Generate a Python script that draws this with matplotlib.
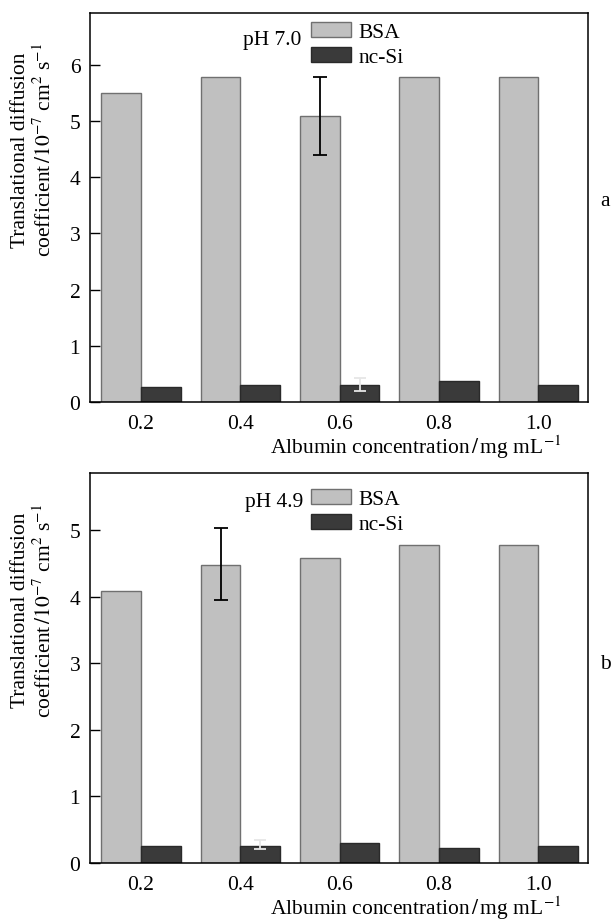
import matplotlib
matplotlib.use("Agg")
import matplotlib.pyplot as plt
import numpy as np
from matplotlib.patches import Patch

plt.rcParams['font.family'] = ['Liberation Serif', 'DejaVu Serif']
plt.rcParams['mathtext.fontset'] = 'stix'

categories = ["0.2", "0.4", "0.6", "0.8", "1.0"]

# Panel a (pH 7.0)
bsa_a = [5.49, 5.78, 5.09, 5.78, 5.78]
ncsi_a = [0.27, 0.31, 0.31, 0.37, 0.31]
bsa_a_err_low = [0, 0, 0.69, 0, 0]
bsa_a_err_high = [0, 0, 0.69, 0, 0]
ncsi_a_err_low = [0, 0, 0.12, 0, 0]
ncsi_a_err_high = [0, 0, 0.12, 0, 0]

# Panel b (pH 4.9)
bsa_b = [4.08, 4.48, 4.58, 4.78, 4.78]
ncsi_b = [0.26, 0.26, 0.30, 0.22, 0.26]
bsa_b_err_low = [0, 0.53, 0, 0, 0]
bsa_b_err_high = [0, 0.56, 0, 0, 0]
ncsi_b_err_low = [0, 0.05, 0, 0, 0]
ncsi_b_err_high = [0, 0.09, 0, 0, 0]

ph_labels = ["pH 7.0", "pH 4.9"]
panel_tags = ["a", "b"]
series_names = ["BSA", "nc-Si"]

BSA_FACE = '#c0c0c0'
BSA_EDGE = '#707070'
NC_FACE = '#3a3a3a'
NC_EDGE = '#2a2a2a'
FS = 15.5

fig = plt.figure(figsize=(6.11, 9.2), dpi=100)
W, H = 611, 920
ax_a = fig.add_axes([90 / W, 1 - 403 / H, (588 - 90) / W, (403 - 14) / H])
ax_b = fig.add_axes([90 / W, 1 - 864 / H, (588 - 90) / W, (864 - 474) / H])

panels = [
    (ax_a, bsa_a, ncsi_a, (bsa_a_err_low, bsa_a_err_high), (ncsi_a_err_low, ncsi_a_err_high), 6.92, range(0, 7)),
    (ax_b, bsa_b, ncsi_b, (bsa_b_err_low, bsa_b_err_high), (ncsi_b_err_low, ncsi_b_err_high), 5.86, range(0, 6)),
]

x = np.arange(len(categories))
w = 0.4
for k, (ax, bsa, nc, berr, nerr, ymax, yt) in enumerate(panels):
    ax.bar(x - w / 2, bsa, width=w, color=BSA_FACE, edgecolor=BSA_EDGE, linewidth=1.0, zorder=2)
    ax.bar(x + w / 2, nc, width=w, color=NC_FACE, edgecolor=NC_EDGE, linewidth=1.0, zorder=2)
    bl, bh = np.array(berr[0]), np.array(berr[1])
    m = (bl + bh) > 0
    ax.errorbar((x - w / 2)[m], np.array(bsa)[m], yerr=[bl[m], bh[m]], fmt='none',
                ecolor='black', elinewidth=1.3, capsize=5, capthick=1.3, zorder=3)
    nl, nh = np.array(nerr[0]), np.array(nerr[1])
    m2 = (nl + nh) > 0
    ax.errorbar((x + w / 2)[m2], np.array(nc)[m2], yerr=[nl[m2], nh[m2]], fmt='none',
                ecolor='#e6e6e6', elinewidth=1.3, capsize=4, capthick=1.3, zorder=3)

    ax.set_xlim(-0.514, 4.5)
    ax.set_ylim(0, ymax)
    ax.set_yticks(list(yt))
    ax.set_xticks(x)
    ax.set_xticklabels(categories, fontsize=FS)
    ax.tick_params(axis='y', direction='in', length=7, width=1, pad=7, labelsize=FS)
    ax.tick_params(axis='x', length=0, pad=9, labelsize=FS)
    for s in ax.spines.values():
        s.set_linewidth(1.1)

    ax.text(-0.113, 0.65, "Translational diffusion\ncoefficient$\\,/10^{-7}$ cm$^2$ s$^{-1}$",
            rotation=90, ha='center', va='center', multialignment='center',
            fontsize=FS, transform=ax.transAxes, linespacing=1.2)
    ax.text(0.653, -0.115 if k == 0 else -0.113, "Albumin concentration$\\,/\\,$mg mL$^{-1}$",
            ha='center', va='center', fontsize=FS, transform=ax.transAxes)

    handles = [Patch(facecolor=BSA_FACE, edgecolor=BSA_EDGE, linewidth=1.0),
               Patch(facecolor=NC_FACE, edgecolor=NC_EDGE, linewidth=1.0)]
    ax.legend(handles, series_names, loc='upper left',
              bbox_to_anchor=(0.444, 0.978 if k == 0 else 0.96),
              frameon=False, fontsize=FS, handlelength=1.85, handleheight=0.75,
              labelspacing=0.22, handletextpad=0.35, borderpad=0, borderaxespad=0)
    ax.text(0.424 if k == 0 else 0.428, 0.933 if k == 0 else 0.926, ph_labels[k],
            ha='right', va='center', fontsize=FS, transform=ax.transAxes)

fig.text(605 / W, 1 - 202 / H, panel_tags[0], ha='center', va='center', fontsize=FS)
fig.text(605 / W, 1 - 665 / H, panel_tags[1], ha='center', va='center', fontsize=FS)

fig.savefig("out.png", dpi=100)
